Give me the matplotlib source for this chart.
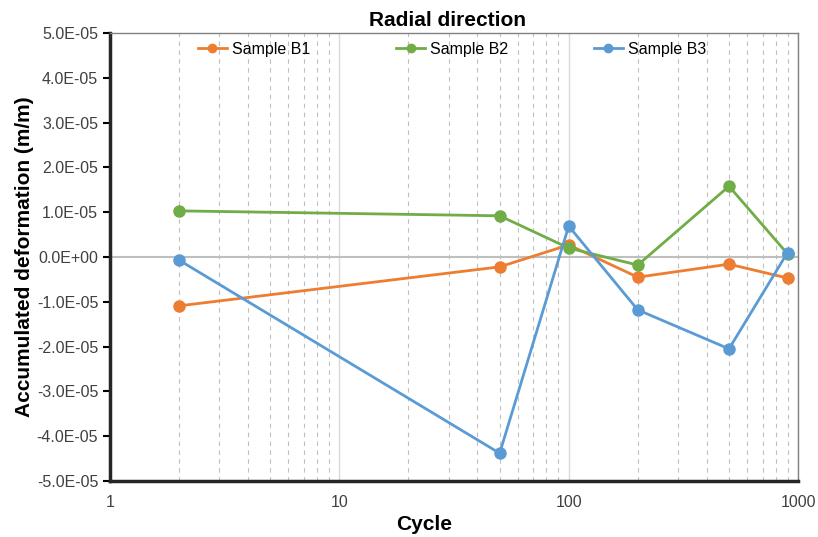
import numpy as np
import matplotlib
matplotlib.use('Agg')
import matplotlib.pyplot as plt
from matplotlib.ticker import FuncFormatter, LogLocator, NullFormatter

plt.rcParams['font.family'] = ['Liberation Sans', 'DejaVu Sans']

# data
cycles = [2, 50, 100, 200, 500, 900]
b1 = [-1.09e-5, -2.2e-6, 2.7e-6, -4.5e-6, -1.6e-6, -4.7e-6]
b2 = [1.03e-5, 9.2e-6, 2.0e-6, -1.8e-6, 1.58e-5, 0.7e-6]
b3 = [-0.7e-6, -4.38e-5, 6.9e-6, -1.18e-5, -2.05e-5, 1.0e-6]
labels = ['Sample B1', 'Sample B2', 'Sample B3']
colors = ['#ED7D31', '#70AD47', '#5B9BD5']

fig = plt.figure(figsize=(8.18, 5.37), dpi=100)
ax = fig.add_axes([0.1345, 0.1043, 0.8411, 0.8342])

for ys, lab, c in zip([b1, b2, b3], labels, colors):
    ax.plot(cycles, ys, '-o', color=c, lw=2, ms=8, label=lab, zorder=3)

ax.set_xscale('log')
ax.set_xlim(1, 1000)
ax.set_ylim(-5e-5, 5e-5)
ax.set_yticks(np.arange(-5e-5, 5.1e-5, 1e-5))

def sci(v, pos):
    s = '%.1E' % v
    if abs(v) < 1e-12:
        s = '0.0E+00'
    return s
ax.yaxis.set_major_formatter(FuncFormatter(sci))
ax.xaxis.set_major_formatter(FuncFormatter(lambda v, p: '%d' % v))
ax.xaxis.set_minor_locator(LogLocator(base=10, subs=np.arange(2, 10)))
ax.xaxis.set_minor_formatter(NullFormatter())

ax.grid(True, which='major', axis='x', color='#D9D9D9', lw=1)
ax.grid(True, which='minor', axis='x', color='#BFBFBF', lw=0.8, ls=(0, (4, 4)))
ax.axhline(0, color='#BFBFBF', lw=1.5, zorder=1)
ax.set_axisbelow(True)

ax.tick_params(axis='x', which='both', length=0, labelsize=11.5, pad=10, labelcolor='#404040')
ax.tick_params(axis='y', which='major', length=5, width=1.5, labelsize=11.5, direction='out',
               labelcolor='#404040')

for s in ['top', 'right']:
    ax.spines[s].set_color('#808080')
    ax.spines[s].set_linewidth(1)
for s in ['left', 'bottom']:
    ax.spines[s].set_color('#262626')
    ax.spines[s].set_linewidth(2.5)

ax.set_title('Radial direction', fontsize=15, fontweight='bold', pad=5, x=0.49)
ax.set_xlabel('Cycle', fontsize=15, fontweight='bold')
ax.xaxis.set_label_coords(0.457, -0.075)
ax.set_ylabel('Accumulated deformation (m/m)', fontsize=15, fontweight='bold')
ax.yaxis.set_label_coords(-0.111, 0.5)

ax.legend(loc='upper center', ncol=3, frameon=False, fontsize=11.5, bbox_to_anchor=(0.497, 1.012),
          handlelength=1.8, handletextpad=0.3, columnspacing=5.4, markerscale=0.75)

fig.savefig('out.png', dpi=100)
